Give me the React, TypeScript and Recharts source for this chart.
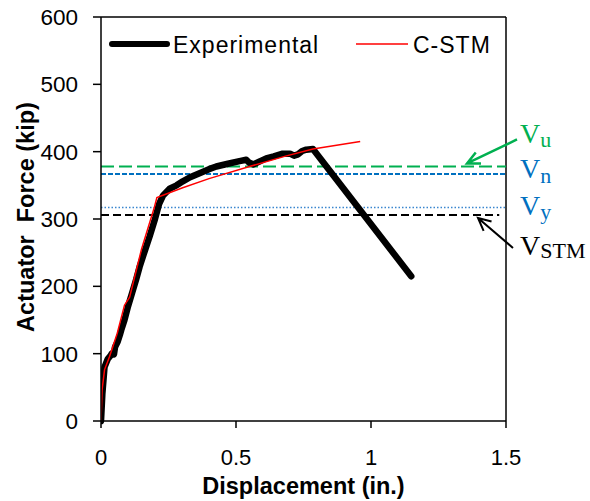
import React from 'react'
import { LineChart, Line, XAxis, YAxis, ReferenceLine, Label } from 'recharts'

// experimental load-displacement curve
const expX = [0, 0.005, 0.013, 0.025, 0.035, 0.04, 0.048, 0.052, 0.062, 0.07, 0.075, 0.087, 0.1, 0.115, 0.13, 0.143, 0.16, 0.18, 0.2, 0.215, 0.23, 0.254, 0.28, 0.303, 0.33, 0.365, 0.4, 0.427, 0.47, 0.513, 0.538, 0.548, 0.565, 0.59, 0.612, 0.64, 0.673, 0.7, 0.715, 0.73, 0.745, 0.76, 0.785, 1.149]
const expY = [0, 40, 80, 92, 97, 100, 99, 110, 118, 128, 135, 150, 170, 190, 210, 229, 250, 274, 300, 322, 335, 345, 350, 356, 362, 368, 374, 378, 382, 386, 388, 384, 381, 386, 390, 393, 397, 397, 394, 396, 401, 403, 404, 215]

// C-STM prediction
const stmX = [0, 0.004, 0.013, 0.031, 0.06, 0.087, 0.106, 0.15, 0.198, 0.207, 0.3, 0.4, 0.55, 0.68, 0.785, 0.96]
const stmY = [0, 46, 76, 95, 130, 172, 184, 255, 318, 332, 346, 360, 378, 393, 404, 415]

// capacity levels (kip)
const Vu = 378
const Vn = 367
const Vy = 317
const Vstm = 306

const xTicks = [0, 0.5, 1, 1.5]
const yTicks = [0, 100, 200, 300, 400, 500, 600]

const expData = expX.map((x, i) => ({ x, y: expY[i] }))
const stmData = stmX.map((x, i) => ({ x, y: stmY[i] }))

const GREEN = '#00B050'
const BLUE = '#0070C0'
const SANS = 'Liberation Sans, Arial, sans-serif'
const SERIF = 'Liberation Serif, Times New Roman, serif'

function arrow(x1: number, y1: number, x2: number, y2: number, len = 14) {
  const a = Math.atan2(y1 - y2, x1 - x2)
  const s = 0.45
  const p1 = [x2 + len * Math.cos(a + s), y2 + len * Math.sin(a + s)]
  const p2 = [x2 + len * Math.cos(a - s), y2 + len * Math.sin(a - s)]
  return `M${x1},${y1} L${x2},${y2} M${p1[0]},${p1[1]} L${x2},${y2} L${p2[0]},${p2[1]}`
}

function VLabel({ y, sub, color, dy, subDy }: { y: number; sub: string; color: string; dy: number; subDy: number }) {
  return (
    <text x={520} y={y + dy} fill={color} fontFamily={SERIF} fontSize={28}>
      V
      <tspan fontSize={22} dy={subDy}>{sub}</tspan>
    </text>
  )
}

export default function App() {
  return (
    <div style={{ position: 'absolute', left: 0, top: 0 }}>
      <LineChart width={590} height={501} margin={{ top: 17, right: 84, bottom: 0, left: 0 }}>
        <XAxis
          type="number"
          dataKey="x"
          domain={[0, 1.5]}
          ticks={xTicks}
          allowDataOverflow
          height={80}
          tickSize={7}
          tickMargin={21}
          stroke="#000"
          strokeWidth={1.5}
          tick={{ fill: '#000', fontSize: 22, fontFamily: SANS }}
        >
          <Label
            content={({ viewBox }: any) => (
              <text x={viewBox.x + viewBox.width / 2} y={494} textAnchor="middle" fontFamily={SANS} fontSize={23.5} fontWeight="bold" fill="#000">
                Displacement (in.)
              </text>
            )}
          />
        </XAxis>
        <YAxis
          type="number"
          domain={[0, 600]}
          ticks={yTicks}
          width={101}
          tickSize={8}
          tickMargin={15}
          stroke="#000"
          strokeWidth={1.5}
          tick={{ fill: '#000', fontSize: 22.5, fontFamily: SANS }}
        >
          <Label
            content={({ viewBox }: any) => {
              const cy = viewBox.y + viewBox.height / 2 - 2
              return (
                <text x={26} y={cy} transform={`rotate(-90 26 ${cy})`} textAnchor="middle" dominantBaseline="central" fontFamily={SANS} fontSize={23.5} fontWeight="bold" fill="#000" style={{ whiteSpace: 'pre' }}>
                  {'Actuator  Force (kip)'}
                </text>
              )
            }}
          />
        </YAxis>

        {/* frame */}
        <ReferenceLine y={600} stroke="#000" strokeWidth={1.5} />
        <ReferenceLine x={1.5} stroke="#000" strokeWidth={1.5} />

        <ReferenceLine
          y={Vu}
          stroke={GREEN}
          strokeWidth={2}
          strokeDasharray="13 5"
          label={({ viewBox }: any) => (
            <g>
              <path d={arrow(517, viewBox.y - 27, 467, viewBox.y - 3)} stroke={GREEN} strokeWidth={2.5} fill="none" />
              <VLabel y={viewBox.y} sub="u" color={GREEN} dy={-23} subDy={4} />
            </g>
          )}
        />
        <ReferenceLine
          y={Vn}
          stroke={BLUE}
          strokeWidth={2}
          strokeDasharray="5 2"
          label={({ viewBox }: any) => <VLabel y={viewBox.y} sub="n" color={BLUE} dy={4} subDy={5} />}
        />
        <ReferenceLine
          y={Vy}
          stroke="#3A86CF"
          strokeWidth={1.5}
          strokeDasharray="1.5 2"
          label={({ viewBox }: any) => <VLabel y={viewBox.y} sub="y" color={BLUE} dy={7} subDy={4} />}
        />
        <ReferenceLine
          segment={[{ x: 0, y: Vstm }, { x: 1.475, y: Vstm }]}
          stroke="#000"
          strokeWidth={2}
          strokeDasharray="8 4"
          label={({ viewBox }: any) => (
            <g>
              <path d={arrow(513, viewBox.y + 33, 478, viewBox.y + 3)} stroke="#000" strokeWidth={2} fill="none" />
              <VLabel y={viewBox.y} sub="STM" color="#000" dy={40} subDy={3} />
            </g>
          )}
        />

        <Line data={expData} dataKey="y" type="linear" stroke="#000" strokeWidth={6.5} strokeLinecap="round" strokeLinejoin="round" dot={false} activeDot={false} isAnimationActive={false} />
        <Line data={stmData} dataKey="y" type="linear" stroke="#FF0000" strokeWidth={1.5} dot={false} activeDot={false} isAnimationActive={false} />

        {/* legend */}
        <g fontFamily={SANS} fontSize={23} fill="#000">
          <line x1={112} y1={44} x2={167} y2={44} stroke="#000" strokeWidth={6} strokeLinecap="round" />
          <text x={173} y={53} letterSpacing={1}>Experimental</text>
          <line x1={356} y1={44} x2={408} y2={44} stroke="#FF0000" strokeWidth={1.5} />
          <text x={413} y={53} letterSpacing={1}>C-STM</text>
        </g>
      </LineChart>
    </div>
  )
}
